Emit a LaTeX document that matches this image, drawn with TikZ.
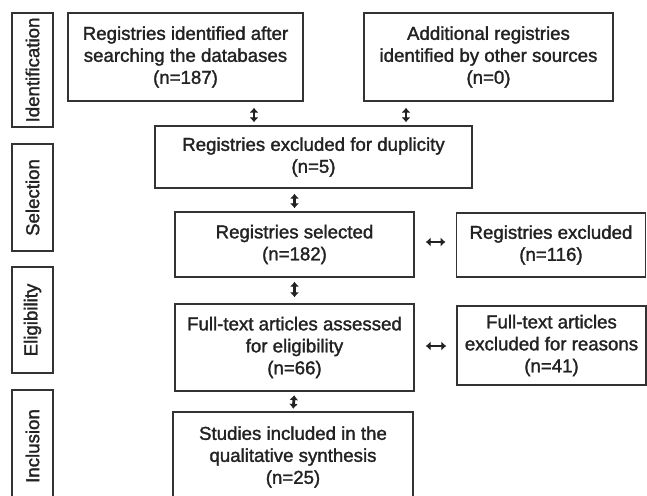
\documentclass[tikz,border=0pt]{standalone}
\usepackage{fontspec}
\setmainfont{Liberation Sans}
\usetikzlibrary{arrows.meta}
\definecolor{ink}{HTML}{222222}
\definecolor{edge}{HTML}{333333}
\newcommand\heavytext{\special{pdf:literal direct 2 Tr 0.22 w}}
\tikzset{
  box/.style={draw=edge, line width=1.1pt, inner sep=0pt, align=center, text=ink,
    font=\fontsize{14}{16.5}\selectfont\heavytext},
  side/.style={box, rotate=90},
  dbl/.style={line width=2.1pt, draw=ink, {Latex[length=3.6pt,width=6.8pt]}-{Latex[length=3.6pt,width=6.8pt]}},
}
\newcommand\pxl[1]{#1*0.75pt}
\begin{document}
\begin{tikzpicture}[x=0.75pt,y=-0.75pt]
\useasboundingbox (0,0) rectangle (647,496);
\clip (0,0) rectangle (647,496);
% side labels (rotated: width = vertical extent)
\node[side, minimum width=\pxl{114}, minimum height=\pxl{41}] (s1) at (32.5,70) {Identification};
\node[side, minimum width=\pxl{107}, minimum height=\pxl{41}] (s2) at (32.5,197.5) {Selection};
\node[side, minimum width=\pxl{106}, minimum height=\pxl{41}] (s3) at (32.5,320) {Eligibility};
\node[side, minimum width=\pxl{112}, minimum height=\pxl{41}] (s4) at (32.5,446) {Inclusion};
% flow boxes
\node[box, minimum width=\pxl{235}, minimum height=\pxl{88}] (b1) at (185.5,57) {Registries identified after\\searching the databases\\(n=187)};
\node[box, minimum width=\pxl{249}, minimum height=\pxl{88}] (b2) at (488.5,57) {Additional registries\\identified by other sources\\(n=0)};
\node[box, minimum width=\pxl{317}, minimum height=\pxl{62}] (b3) at (313.5,157) {Registries excluded for duplicity\\(n=5)};
\node[box, minimum width=\pxl{239}, minimum height=\pxl{65}] (b4) at (294.5,244.5) {Registries selected\\(n=182)};
\node[box, minimum width=\pxl{189.5}, minimum height=\pxl{64}] (b5) at (551,245) {Registries excluded\\(n=116)};
\node[box, minimum width=\pxl{239}, minimum height=\pxl{87}] (b6) at (294.5,347.5) {Full-text articles assessed\\for eligibility\\(n=66)};
\node[box, minimum width=\pxl{189}, minimum height=\pxl{79}] (b7) at (551.5,345.5) {Full-text articles\\excluded for reasons\\(n=41)};
\node[box, minimum width=\pxl{240}, minimum height=\pxl{90}] (b8) at (293,457) {Studies included in the\\qualitative synthesis\\(n=25)};
% arrow columns
\coordinate (c1) at (254,0);
\coordinate (c2) at (406,0);
\draw[dbl, shorten <=\pxl{6}, shorten >=\pxl{3}] (b1.south -| c1) -- (b3.north -| c1);
\draw[dbl, shorten <=\pxl{6}, shorten >=\pxl{3}] (b2.south -| c2) -- (b3.north -| c2);
\draw[dbl, shorten <=\pxl{5}, shorten >=\pxl{3}] (b3.south -| b4.south) -- (b4.north);
\draw[dbl, shorten <=\pxl{4}, shorten >=\pxl{6}] (b4.south) -- (b6.north);
\draw[dbl, shorten <=\pxl{3.5}, shorten >=\pxl{2.5}] (b6.south) -- (b8.north);
\draw[dbl, shorten <=\pxl{11}, shorten >=\pxl{10}] (b4.east |- 0,242) -- (b5.west |- 0,242);
\draw[dbl, shorten <=\pxl{11}, shorten >=\pxl{10}] (b6.east |- 0,346) -- (b7.west |- 0,346);
\end{tikzpicture}
\end{document}
